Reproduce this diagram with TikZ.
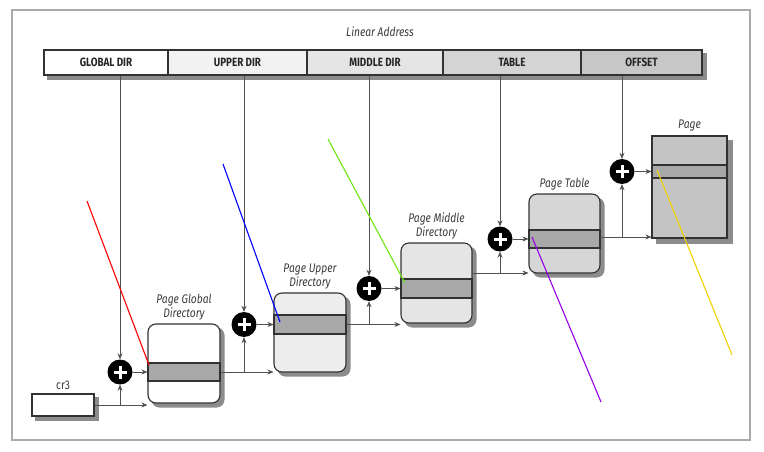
\documentclass[tikz,border=0pt]{standalone}
\usepackage{fontspec}
\setmainfont{Fira Sans}
\newfontfamily\narrowfont[FakeStretch=0.82]{Fira Sans}
\usetikzlibrary{backgrounds,calc,positioning,arrows.meta}

\definecolor{edge}{RGB}{50,50,50}
\definecolor{wirec}{RGB}{80,80,80}
\definecolor{textc}{RGB}{60,60,60}
\definecolor{rowgray}{RGB}{168,168,168}
\definecolor{frameg}{RGB}{170,170,170}
\definecolor{limeg}{RGB}{110,230,20}
\definecolor{violet2}{RGB}{150,0,230}
\definecolor{gold}{RGB}{240,210,0}

\begin{document}
\begin{tikzpicture}[x=1pt, y=-1pt, >={Stealth[length=6pt,width=5pt]}]
    \tikzset{
        field/.style={draw=edge, line width=1.1pt, rectangle, minimum height=25pt, inner sep=0pt, font=\narrowfont\bfseries\fontsize{12}{14}\selectfont, text=black!85},
        table/.style={draw=edge, line width=1.1pt, rectangle, rounded corners=8pt, minimum width=72pt, minimum height=79pt, inner sep=0pt},
        row/.style={draw=edge, line width=1.1pt, fill=rowgray, rectangle, minimum width=72pt, inner sep=0pt},
        title/.style={font=\narrowfont\itshape\fontsize{12.5}{14}\selectfont, text=textc, align=center, inner sep=1pt},
        adder/.style={circle, fill=black, minimum size=25pt, inner sep=0pt},
        wire/.style={draw=wirec, line width=0.7pt},
        shade/.style={fill=black!45},
        hint/.style={line width=1.1pt}
    }
    \useasboundingbox (0,0) rectangle (764,452);
    \draw[frameg, line width=1.2pt] (12,10) rectangle (750,440);

    % linear address fields
    \node[title] (lin) at (380,32) {Linear Address};
    \node[field, fill=white, minimum width=124pt] (fld1) at (106,62.5) {GLOBAL DIR};
    \node[field, fill=black!5, minimum width=139pt] (fld2) at (237.5,62.5) {UPPER DIR};
    \node[field, fill=black!10, minimum width=136pt] (fld3) at (375,62.5) {MIDDLE DIR};
    \node[field, fill=black!17, minimum width=138pt] (fld4) at (512,62.5) {TABLE};
    \node[field, fill=black!22, minimum width=121pt] (fld5) at (641.5,62.5) {OFFSET};

    % cr3
    \node[draw=edge, line width=1.1pt, fill=white, minimum width=62pt, minimum height=22pt, inner sep=0pt] (cr3) at (63,405) {};
    \node[title, font=\narrowfont\fontsize{12.5}{14}\selectfont, above=3pt of cr3] (cr3lbl) {cr3};

    % tables
    \node[table, fill=white] (pgd) at (184,363.5) {};
    \node[row, minimum height=18pt] (pgdrow) at (184,372) {};
    \node[title, above=2pt of pgd] (pgdlbl) {Page Global\\Directory};

    \node[table, fill=black!7] (pud) at (310,332.5) {};
    \node[row, minimum height=19pt] (pudrow) at (310,324.5) {};
    \node[title, above=2pt of pud] (pudlbl) {Page Upper\\Directory};

    \node[table, fill=black!10, minimum width=71pt, minimum height=80pt] (pmd) at (436.5,283) {};
    \node[row, minimum width=71pt, minimum height=19pt] (pmdrow) at (436.5,288.5) {};
    \node[title, above=2pt of pmd] (pmdlbl) {Page Middle\\Directory};

    \node[table, fill=black!16, minimum width=71pt] (pt) at (564.5,233.5) {};
    \node[row, minimum width=71pt, minimum height=18pt] (ptrow) at (564.5,239) {};
    \node[title, above=2pt of pt] (ptlbl) {Page Table};

    \node[table, rounded corners=0pt, fill=black!23, minimum width=75pt, minimum height=102pt] (page) at (689.5,187) {};
    \node[row, minimum width=75pt, minimum height=13pt] (pagerow) at (689.5,171.5) {};
    \node[title, above=3pt of page] (pagelbl) {Page};

    % shadows
    \begin{scope}[on background layer]
        \fill[shade] ($(fld1.north west)+(4,4)$) rectangle ($(fld5.south east)+(4,4)$);
        \fill[shade] ($(cr3.north west)+(4,4)$) rectangle ($(cr3.south east)+(4,4)$);
        \foreach \t in {pgd,pud,pmd,pt}
            \fill[shade, rounded corners=8pt] ($(\t.north west)+(4,4)$) rectangle ($(\t.south east)+(4,4)$);
        \fill[shade] ($(page.north west)+(5,5)$) rectangle ($(page.south east)+(5,5)$);
    \end{scope}

    % adders
    \foreach \n/\x/\y in {add1/120/372, add2/244/324.5, add3/369/288.5, add4/500/239, add5/622/171.5} {
        \node[adder] (\n) at (\x,\y) {};
        \draw[white, line width=3pt] ($(\n)+(-6.5,0)$) -- ($(\n)+(6.5,0)$) ($(\n)+(0,-6.5)$) -- ($(\n)+(0,6.5)$);
    }

    % field to adder
    \draw[wire, ->] (add1 |- fld1.south) -- (add1.north);
    \draw[wire, ->] (add2 |- fld2.south) -- (add2.north);
    \draw[wire, ->] (add3 |- fld3.south) -- (add3.north);
    \draw[wire, ->] (add4 |- fld4.south) -- (add4.north);
    \draw[wire, ->] (add5 |- fld5.south) -- (add5.north);

    % adder to entry
    \draw[wire, ->] (add1.east) -- (pgdrow.west);
    \draw[wire, ->] (add2.east) -- (pudrow.west);
    \draw[wire, ->] (add3.east) -- (pmdrow.west);
    \draw[wire, ->] (add4.east) -- (ptrow.west);
    \draw[wire, ->] (add5.east) -- (pagerow.west);

    % base addresses
    \draw[wire, ->] (cr3.east) -- (cr3.east -| pgd.west);
    \draw[wire, ->] (cr3.east -| add1) -- (add1.south);
    \draw[wire, ->] (pgdrow.east) -- (pgdrow.east -| pud.west);
    \draw[wire, ->] (pgdrow.east -| add2) -- (add2.south);
    \draw[wire, ->] (pudrow.east) -- (pudrow.east -| pmd.west);
    \draw[wire, ->] (pudrow.east -| add3) -- (add3.south);
    \coordinate (pmdout) at (472,273);
    \draw[wire, ->] (pmdout) -- (pmdout -| pt.west);
    \draw[wire, ->] (pmdout -| add4) -- (add4.south);
    \coordinate (ptout) at (600,237);
    \draw[wire, ->] (ptout) -- (ptout -| page.west);
    \draw[wire, ->] (ptout -| add5) -- (add5.south);

    % coloured marks
    \coordinate (m1a) at (87,201);  \coordinate (m1b) at (149,365);
    \coordinate (m2a) at (223,164); \coordinate (m2b) at (280,322);
    \coordinate (m3a) at (328,139); \coordinate (m3b) at (405,283);
    \coordinate (m4a) at (532,237); \coordinate (m4b) at (601,402);
    \coordinate (m5a) at (657,170); \coordinate (m5b) at (732,355);
    \draw[hint, red] (m1a) -- (m1b);
    \draw[hint, blue] (m2a) -- (m2b);
    \draw[hint, limeg] (m3a) -- (m3b);
    \draw[hint, violet2] (m4a) -- (m4b);
    \draw[hint, gold] (m5a) -- (m5b);
\end{tikzpicture}
\end{document}
